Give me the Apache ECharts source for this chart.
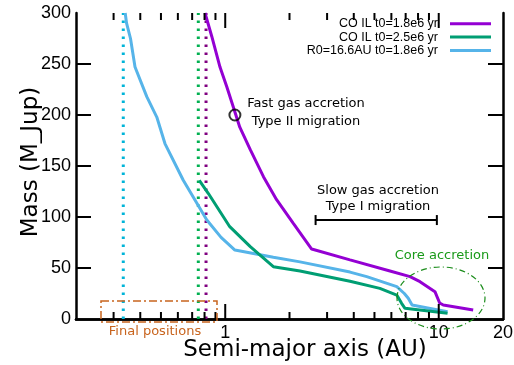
<!DOCTYPE html>
<html>
<head>
<meta charset="utf-8">
<script src="https://cdn.jsdelivr.net/npm/echarts@6/dist/echarts.min.js"></script>
<style>
  html, body { margin: 0; padding: 0; background: #fff; }
  #chart { width: 514px; height: 365px; }
</style>
</head>
<body>
<div id="chart"></div>
<script>
// series data (x in AU, y in M_Jup)
var purpleX = [0.804, 0.865, 0.945, 1.016, 1.11, 1.17, 1.31, 1.51, 1.74, 2.08, 2.54, 3.84, 5.91, 7.34, 8.17, 9.6, 10.1, 10.5, 14.5];
var purpleY = [300, 277, 247, 228, 203, 188, 166, 139.5, 117, 94, 68.6, 58, 47, 41.5, 36.6, 26.8, 15.7, 13.7, 8.8];
var greenX = [0.756, 0.834, 1.05, 1.31, 1.68, 2.24, 3.84, 5.3, 6.36, 6.7, 6.95, 11];
var greenY = [136, 123, 90.5, 70.9, 51.3, 47, 37, 30, 23.5, 15.4, 10.5, 5.6];
var blueX = [0.34, 0.345, 0.36, 0.378, 0.429, 0.478, 0.522, 0.636, 0.82, 0.956, 1.11, 1.68, 2.24, 3.84, 4.6, 6.36, 6.9, 7.2, 7.5, 9, 11];
var blueY = [300, 290, 275, 247, 218, 198, 172, 136, 97, 80, 67.6, 60.5, 56, 46, 41.5, 31.7, 25, 20.3, 13.7, 10.6, 7.2];

var seriesNames = ['CO IL t0=1.8e6 yr', 'CO IL t0=2.5e6 yr', 'R0=16.6AU t0=1.8e6 yr'];
var seriesColors = ['#9400d3', '#009e73', '#56b4e9'];

// final positions (vertical dotted lines)
var finalPos = [0.333, 0.748, 0.813];
var finalColors = ['#00b4d8', '#00b050', '#800080'];

// marker and migration range
var circlePoint = [1.11, 200];
var typeIRange = [2.65, 9.8];
var typeILevel = 97;

// axis ticks
var xMinorTicks = [0.3, 0.4, 0.5, 0.6, 0.7, 0.8, 0.9, 2, 3, 4, 5, 6, 7, 8, 9];
var xMajorTicks = [1, 10];
var xLabelValues = [1, 10, 20];
var yTicks = [50, 100, 150, 200, 250];
var xMin = 0.2, xMax = 20;
var yMin = 0, yMax = 300, yStep = 50;

function zip(xs, ys) {
    var out = [];
    for (var i = 0; i < xs.length; ++i) out.push([xs[i], ys[i]]);
    return out;
}

var chart = echarts.init(document.getElementById('chart'));

var ser = [];
for (var i = 0; i < 3; ++i) {
    var d = [zip(purpleX, purpleY), zip(greenX, greenY), zip(blueX, blueY)][i];
    ser.push({
        name: seriesNames[i],
        type: 'line',
        data: d,
        showSymbol: false,
        symbol: 'none',
        lineStyle: { color: seriesColors[i], width: 3 },
        itemStyle: { color: seriesColors[i] },
        z: 5 - i
    });
}
for (var i = 0; i < finalPos.length; ++i) {
    ser.push({
        type: 'line',
        data: [[finalPos[i], yMin], [finalPos[i], yMax]],
        symbol: 'none',
        silent: true,
        lineStyle: { color: finalColors[i], width: 3, type: [2.5, 5.5], cap: 'butt' },
        z: 1
    });
}
ser.push({
    type: 'scatter',
    data: [circlePoint],
    symbol: 'circle',
    symbolSize: 11,
    itemStyle: { color: 'rgba(0,0,0,0)', borderColor: '#000', borderWidth: 2 },
    z: 10
});
ser.push({
    type: 'line',
    data: [[typeIRange[0], typeILevel], [typeIRange[1], typeILevel]],
    symbol: 'rect',
    symbolSize: [2, 10],
    showSymbol: true,
    itemStyle: { color: '#000' },
    lineStyle: { color: '#000', width: 2 },
    z: 6
});

var axisLineStyle = { color: '#000', width: 2.5 };

var annoFont = { fontFamily: 'DejaVu Sans', fontSize: 13, fill: '#000', align: 'center', verticalAlign: 'middle' };
function anno(x, y, text, fill, size) {
    var st = Object.assign({}, annoFont, { text: text });
    if (fill) st.fill = fill;
    if (size) st.fontSize = size;
    return { type: 'text', x: x, y: y, style: st, z: 20 };
}

var option = {
    animation: false,
    backgroundColor: '#fff',
    grid: { left: 76, right: 11, top: 13, bottom: 46, outerBoundsMode: 'none', containLabel: false },
    legend: {
        data: seriesNames.map(function (n) { return { name: n, icon: 'rect' }; }),
        orient: 'vertical',
        right: 23,
        top: 17,
        padding: 0,
        align: 'right',
        itemWidth: 41,
        itemHeight: 3,
        itemGap: 0,
        selectedMode: false,
        textStyle: { fontFamily: 'Liberation Sans', fontSize: 12.5, color: '#000', lineHeight: 13.4, padding: [0, 7, 0, 0] }
    },
    xAxis: [
        {
            type: 'log', logBase: 10, min: xMin, max: xMax, position: 'bottom',
            axisLine: { lineStyle: axisLineStyle },
            axisTick: { show: false },
            axisLabel: {
                show: true, customValues: xLabelValues, showMinLabel: true, showMaxLabel: true,
                fontFamily: 'Liberation Sans', fontSize: 18, color: '#000', margin: 5,
                formatter: function (v) { return String(Math.round(v)); }
            },
            splitLine: { show: false }
        },
        {
            type: 'log', logBase: 10, min: xMin, max: xMax, position: 'top',
            axisLine: { lineStyle: axisLineStyle },
            axisTick: { show: false }, axisLabel: { show: false }, splitLine: { show: false }
        }
    ],
    yAxis: [
        {
            type: 'value', min: yMin, max: yMax, interval: yStep, position: 'left',
            axisLine: { show: true, lineStyle: axisLineStyle },
            axisTick: { show: false },
            axisLabel: { fontFamily: 'Liberation Sans', fontSize: 18, color: '#000', margin: 5 },
            splitLine: { show: false },
            name: 'Mass (M_Jup)', nameLocation: 'middle', nameGap: 33, nameRotate: 90, nameMoveOverlap: false,
            nameTextStyle: { fontFamily: 'DejaVu Sans', fontSize: 23, color: '#000', padding: [0, 0, 0, 8] }
        },
        {
            type: 'value', min: yMin, max: yMax, interval: yStep, position: 'right',
            axisLine: { show: true, lineStyle: axisLineStyle },
            axisTick: { show: false },
            axisLabel: { show: false },
            splitLine: { show: false }
        }
    ],
    graphic: [
        anno(306, 104, 'Fast gas accretion'),
        anno(306, 122, 'Type II migration'),
        anno(378, 191, 'Slow gas accretion'),
        anno(378, 207, 'Type I migration'),
        anno(442, 256, 'Core accretion', '#1a9a1a'),
        { type: 'ellipse', shape: { cx: 441, cy: 298, rx: 44, ry: 31 }, style: { fill: null, stroke: '#1a8c1a', lineWidth: 1.2, lineDash: [6, 3, 1, 3] }, z: 20 },
        { type: 'rect', shape: { x: 101, y: 301, width: 116, height: 21 }, style: { fill: null, stroke: '#c8641e', lineWidth: 1.5, lineDash: [8, 3, 2, 3] }, z: 20 },
        anno(155, 332, 'Final positions', '#c8641e'),
        anno(305, 350, 'Semi-major axis (AU)', '#000', 23)
    ],
    series: ser
};
chart.setOption(option);

// mirrored ticks on all four sides as short line series;
// tick lengths (px) are turned into data units through the chart's scales
var finder = { xAxisIndex: 0, yAxisIndex: 0 };
function tickSeries(a, b) {
    return {
        type: 'line', data: [a, b], symbol: 'none', silent: true, z: 7,
        lineStyle: { color: '#000', width: 2, cap: 'butt' }
    };
}
function vTick(x, y, lenPx) {
    var p = chart.convertToPixel(finder, [x, y]);
    var q = chart.convertFromPixel(finder, [p[0], p[1] + lenPx]);
    return tickSeries([x, y], [x, q[1]]);
}
function hTick(x, y, lenPx) {
    var p = chart.convertToPixel(finder, [x, y]);
    var q = chart.convertFromPixel(finder, [p[0] + lenPx, p[1]]);
    return tickSeries([x, y], [q[0], y]);
}
var ticks = [];
for (var i = 0; i < xMinorTicks.length; ++i) {
    ticks.push(vTick(xMinorTicks[i], yMin, -7));
    ticks.push(vTick(xMinorTicks[i], yMax, 7));
}
for (var i = 0; i < xMajorTicks.length; ++i) {
    ticks.push(vTick(xMajorTicks[i], yMin, -15));
    ticks.push(vTick(xMajorTicks[i], yMax, 15));
}
for (var i = 0; i < yTicks.length; ++i) {
    ticks.push(hTick(xMin, yTicks[i], 15));
    ticks.push(hTick(xMax, yTicks[i], -15));
}
chart.setOption({ series: ser.concat(ticks) });
</script>
</body>
</html>
